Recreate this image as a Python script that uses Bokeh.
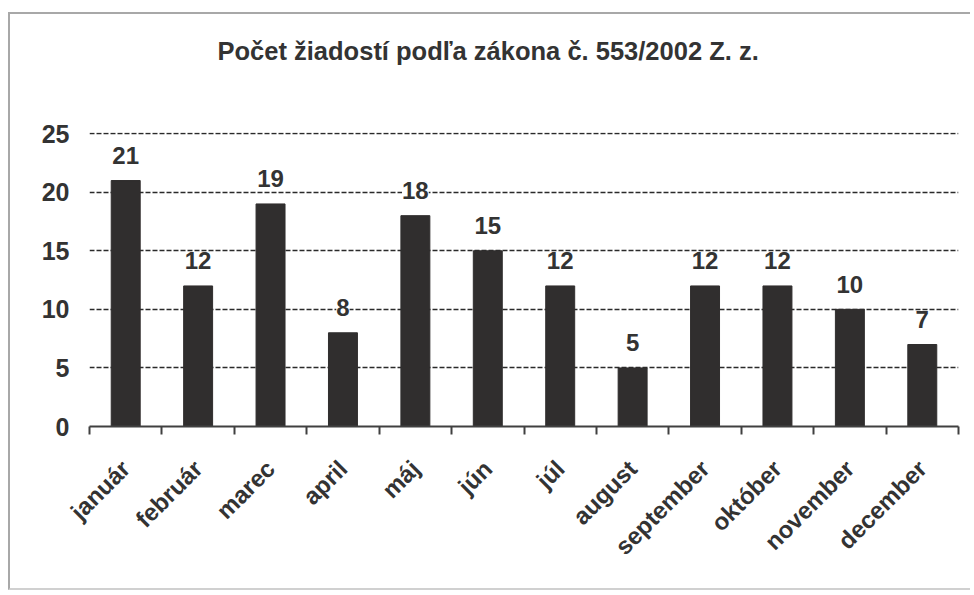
import numpy as np
from math import pi
from bokeh.plotting import figure
from bokeh.models import ColumnDataSource, LabelSet, FixedTicker, Range1d, Title
from bokeh.core.properties import value
from bokeh.embed import file_html
from bokeh.resources import INLINE

title_text = "Počet žiadostí podľa zákona č. 553/2002 Z. z."
months = ["január", "február", "marec", "april", "máj", "jún", "júl",
          "august", "september", "október", "november", "december"]
values = [21, 12, 19, 8, 18, 15, 12, 5, 12, 12, 10, 7]
y_ticks = [0, 5, 10, 15, 20, 25]

FONT = "Liberation Sans"
TXT = "#333333"
BAR = "#302e2e"

n = len(months)
centers = list(range(n))
bounds = [i - 0.5 for i in range(n + 1)]

src = ColumnDataSource(dict(x=centers, v=values, label=[str(v) for v in values]))

p = figure(width=962, height=578,
           x_range=Range1d(-0.5, n - 0.5), y_range=Range1d(0, 25.1),
           output_backend="svg", toolbar_location=None,
           min_border_left=79, min_border_right=14,
           min_border_top=118, min_border_bottom=166)
p.styles = {"border-left": "2px solid #a8a8a8", "border-top": "2px solid #a8a8a8",
            "border-bottom": "2px solid #d0d0d0",
            "margin-top": "12px", "margin-left": "8px"}
p.outline_line_color = None
p.title.visible = False

# spacer between title and plot area (nearest the frame), then the title
p.add_layout(Title(text=" ", text_font_size="10px", standoff=50), "above")
p.add_layout(Title(text=title_text, align="left", offset=128,
                   text_font=FONT, text_font_size="25.5px", text_font_style="bold",
                   text_color=TXT), "above")

p.vbar(x="x", top="v", width=0.4, source=src, color=BAR)

# grid
p.xgrid.visible = False
p.ygrid.ticker = FixedTicker(ticks=y_ticks[1:])
p.ygrid.grid_line_color = "#2a2a2a"
p.ygrid.grid_line_dash = "5 2"
p.ygrid.grid_line_width = 1.5

# y axis
p.yaxis.ticker = FixedTicker(ticks=y_ticks)
p.yaxis.axis_line_color = None
p.yaxis.major_tick_line_color = None
p.yaxis.major_tick_out = 0
p.yaxis.major_tick_in = 0
p.yaxis.minor_tick_line_color = None
p.yaxis.major_label_standoff = 20
p.yaxis.major_label_text_font = FONT
p.yaxis.major_label_text_font_size = "25px"
p.yaxis.major_label_text_font_style = "bold"
p.yaxis.major_label_text_color = TXT

# x axis: labels at centres, ticks at boundaries
p.xaxis.ticker = FixedTicker(ticks=centers, minor_ticks=bounds)
p.xaxis.major_label_overrides = {c: m for c, m in zip(centers, months)}
p.xaxis.major_tick_line_color = None
p.xaxis.minor_tick_in = 0
p.xaxis.minor_tick_out = 8
p.xaxis.minor_tick_line_color = "#404040"
p.xaxis.minor_tick_line_width = 2
p.xaxis.axis_line_color = "#404040"
p.xaxis.axis_line_width = 2
p.xaxis.major_label_orientation = pi / 4
p.xaxis.major_label_standoff = 30
p.xaxis.major_label_text_font = FONT
p.xaxis.major_label_text_font_size = "24px"
p.xaxis.major_label_text_font_style = "bold"
p.xaxis.major_label_text_color = TXT

labels = LabelSet(x="x", y="v", text="label", source=src, y_offset=25,
                  text_align="center", text_baseline="middle",
                  text_font=value(FONT), text_font_size=value("24px"),
                  text_font_style="bold",
                  text_color=TXT, background_fill_color="white")
if "padding" in LabelSet.properties():
    labels.padding = 10
p.add_layout(labels)

open("out.html", "w").write(file_html(p, INLINE))
